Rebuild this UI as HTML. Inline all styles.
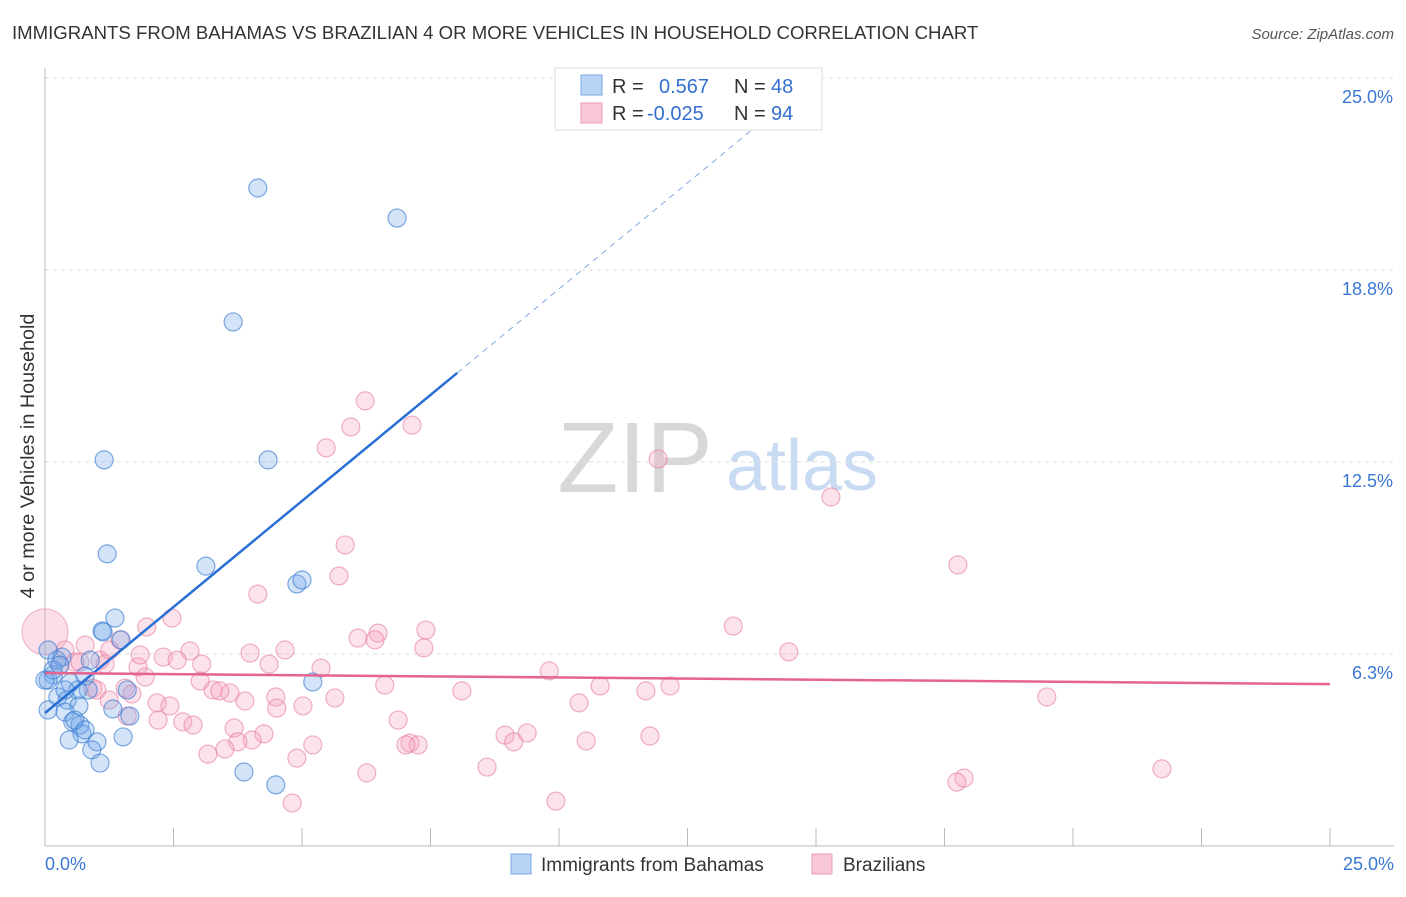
<!DOCTYPE html>
<html><head><meta charset="utf-8"><style>
body{margin:0;background:#fff;font-family:"Liberation Sans",sans-serif;}
svg text{font-family:"Liberation Sans",sans-serif;}
</style></head><body>
<svg id="chart" width="1406" height="892" xmlns="http://www.w3.org/2000/svg">
<text x="12" y="39" font-size="18.6" fill="#333">IMMIGRANTS FROM BAHAMAS VS BRAZILIAN 4 OR MORE VEHICLES IN HOUSEHOLD CORRELATION CHART</text>
<text x="1394" y="39" font-size="15" fill="#555" text-anchor="end" font-style="italic">Source: ZipAtlas.com</text>
<text transform="translate(34,456) rotate(-90)" font-size="19.8" fill="#333" text-anchor="middle">4 or more Vehicles in Household</text>
<g><text x="635" y="492" font-size="100" fill="#d8d8d8" font-family="Liberation Serif,serif" text-anchor="middle">ZIP</text><text x="802" y="490" font-size="72" fill="#c9dbf3" text-anchor="middle">atlas</text></g>
<g id="grid"></g><g id="axes"></g><g id="pts"></g><g id="lines"></g>
<g>
<rect x="555" y="68" width="267" height="62" fill="#fff" stroke="#ddd"/>
<rect x="581" y="75" width="21" height="20" fill="#b9d3f5" stroke="#7aa8e0"/>
<rect x="581" y="103" width="21" height="20" fill="#f9c8d8" stroke="#ec9ab5"/>
<text x="612" y="93" font-size="20" fill="#333">R = </text><text x="659" y="93" font-size="20" fill="#3370d0">0.567</text>
<text x="734" y="93" font-size="20" fill="#333">N = </text><text x="771" y="93" font-size="20" fill="#3370d0">48</text>
<text x="612" y="120" font-size="20" fill="#333">R = </text><text x="647" y="120" font-size="20" fill="#3370d0">-0.025</text>
<text x="734" y="120" font-size="20" fill="#333">N = </text><text x="771" y="120" font-size="20" fill="#3370d0">94</text>
</g>
<g>
<rect x="511" y="854" width="20" height="20" fill="#b9d3f5" stroke="#7aa8e0"/>
<text x="541" y="871" font-size="19" fill="#333">Immigrants from Bahamas</text>
<rect x="812" y="854" width="20" height="20" fill="#f9c8d8" stroke="#ec9ab5"/>
<text x="843" y="871" font-size="19" fill="#333">Brazilians</text>
</g>
</svg>
<script>
const yTicks=[6.25,12.5,18.75,25];
const yTickLabels=["6.3%","12.5%","18.8%","25.0%"];
const xTickVals=[0,2.5,5,7.5,10,12.5,15,17.5,20,22.5,25];
const xEndLabels=["0.0%","25.0%"];
const blueX=[4.14,6.85,3.66,1.15,4.34,1.21,3.13,4.90,5.00,1.36,1.11,1.13,1.48,0.23,0.33,0.88,0.16,0.06,0.49,0.78,5.21,0.84,1.60,0.64,0.25,0.06,0.43,0.66,1.32,1.65,0.39,0.54,0.68,0.72,0.47,1.01,1.52,0.91,1.07,3.87,4.49,0.16,0.06,0.29,0.58,0.78,0.0,0.39];
const blueY=[21.42,20.44,17.06,12.57,12.57,9.51,9.11,8.53,8.66,7.42,7.00,6.97,6.71,6.05,6.15,6.05,5.57,5.40,5.31,5.53,5.34,5.08,5.08,5.08,4.85,4.43,4.75,4.56,4.46,4.23,4.36,4.04,3.94,3.65,3.45,3.39,3.55,3.13,2.70,2.41,1.99,5.73,6.38,5.89,4.10,3.78,5.40,5.08];
const pinkX=[6.23,5.95,7.14,5.47,11.93,15.29,5.84,17.76,5.72,4.14,2.47,1.98,7.41,6.48,6.09,6.42,13.39,7.37,2.82,3.99,4.67,14.47,2.30,3.05,2.57,4.36,5.37,1.81,9.81,1.17,0.39,0.58,0.29,0.68,1.07,1.95,6.61,3.02,10.80,12.16,11.69,8.11,3.27,3.60,3.40,0.93,1.56,1.01,4.49,5.64,19.49,3.89,2.18,2.43,1.25,1.69,10.39,4.51,5.02,1.60,6.87,2.20,2.68,2.88,3.68,4.26,8.95,9.38,9.12,7.10,7.26,7.02,10.53,11.77,5.21,4.03,3.75,3.50,3.17,4.90,8.60,6.26,21.73,17.88,17.74,9.94,4.81,1.46,1.85,1.26,0.78];
const pinkY=[14.49,13.64,13.70,12.96,12.60,11.36,9.80,9.15,8.79,8.20,7.42,7.13,7.03,6.93,6.77,6.71,7.16,6.45,6.35,6.28,6.38,6.32,6.15,5.92,6.05,5.92,5.79,5.83,5.70,5.92,6.38,5.99,5.89,5.99,6.05,5.50,5.24,5.37,5.21,5.21,5.05,5.05,5.08,4.98,5.05,5.14,5.14,5.08,4.85,4.82,4.85,4.72,4.66,4.56,4.75,4.95,4.66,4.49,4.56,4.23,4.10,4.10,4.04,3.94,3.84,3.65,3.61,3.68,3.39,3.35,3.29,3.29,3.42,3.58,3.29,3.45,3.39,3.16,2.99,2.86,2.57,2.38,2.51,2.21,2.08,1.46,1.40,6.71,6.22,6.38,6.54];
const bigPink=[0,6.97];
const blueLine=[4.33,15.40,8.02];
const blueDashEnd=14.9;
const pinkLine=[5.63,5.27];
const X=v=>45+v*51.4, Y=v=>846-v*30.72;
const NS="http://www.w3.org/2000/svg";
function mk(t,a,p){const e=document.createElementNS(NS,t);for(const k in a)e.setAttribute(k,a[k]);document.getElementById(p).appendChild(e);return e;}
yTicks.forEach((t,i)=>{
 const g=mk('line',{x1:45,x2:1394,y1:Y(t),y2:Y(t),stroke:'#ddd','stroke-dasharray':'4,4'},'grid');
 
 
 const l=mk('text',{x:1393,y:Y(t)+25,'font-size':18,fill:'#3a78d4','text-anchor':'end'},'grid');l.textContent=yTickLabels[i];
 
 
});
const ax=mk('line',{x1:45,x2:45,y1:68,y2:846,stroke:'#bbb'},'axes');


const bx=mk('line',{x1:45,x2:1394,y1:846,y2:846,stroke:'#bbb'},'axes');


xTickVals.forEach(t=>{const e=mk('line',{x1:X(t),x2:X(t),y1:828,y2:846,stroke:'#bbb'},'axes');
 
 });
[[0,'start',45],[1,'end',1394]].forEach(([i,a,x])=>{const e=mk('text',{x:x,y:870,'font-size':18,fill:'#3a78d4','text-anchor':a},'axes');e.textContent=xEndLabels[i];
 
 });
const bp=mk('circle',{cx:X(bigPink[0]),cy:Y(bigPink[1]),r:23,fill:'rgba(244,160,188,0.35)',stroke:'rgba(232,130,165,0.6)'},'pts');


pinkX.forEach((x,i)=>{const c=mk('circle',{cx:X(x),cy:Y(pinkY[i]),r:9,fill:'rgba(244,160,188,0.3)',stroke:'rgba(230,125,160,0.6)','stroke-width':1.2},'pts');
 
 });
blueX.forEach((x,i)=>{const c=mk('circle',{cx:X(x),cy:Y(blueY[i]),r:9,fill:'rgba(110,165,232,0.3)',stroke:'rgba(60,125,210,0.65)','stroke-width':1.2},'pts');
 
 });
const slope=(blueLine[1]-blueLine[0])/blueLine[2];
const bl=mk('line',{x1:X(0),y1:Y(blueLine[0]),x2:X(blueLine[2]),y2:Y(blueLine[1]),stroke:'#2a6fd6','stroke-width':2.5},'lines');


const bd=mk('line',{x1:X(blueLine[2]),y1:Y(blueLine[1]),x2:X(blueDashEnd),y2:Y(blueLine[0]+slope*blueDashEnd),stroke:'#7fa8e0','stroke-width':1,'stroke-dasharray':'6,5'},'lines');


const pl=mk('line',{x1:X(0),y1:Y(pinkLine[0]),x2:X(25),y2:Y(pinkLine[1]),stroke:'#e5648f','stroke-width':2.5},'lines');


</script>
</body></html>
